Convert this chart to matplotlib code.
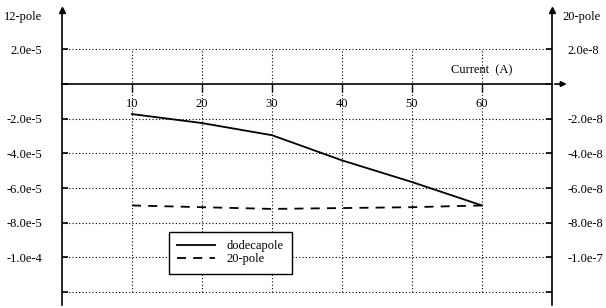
import matplotlib.pyplot as plt

plt.rcParams['font.family'] = ['Liberation Serif', 'DejaVu Serif']

# data
current = [10, 20, 30, 40, 50, 60]
dodecapole = [-1.73e-5, -2.25e-5, -2.95e-5, -4.4e-5, -5.65e-5, -7.0e-5]
pole20 = [-7.0e-8, -7.1e-8, -7.2e-8, -7.15e-8, -7.1e-8, -7.0e-8]

left_ticks = [2e-5, 0, -2e-5, -4e-5, -6e-5, -8e-5, -1e-4, -1.2e-4]
left_labels = ['2.0e-5', '', '-2.0e-5', '-4.0e-5', '-6.0e-5', '-8.0e-5', '-1.0e-4', '']
right_ticks = [2e-8, 0, -2e-8, -4e-8, -6e-8, -8e-8, -1e-7, -1.2e-7]
right_labels = ['2.0e-8', '', '-2.0e-8', '-4.0e-8', '-6.0e-8', '-8.0e-8', '-1.0e-7', '']

fig = plt.figure(figsize=(6.06, 3.08), dpi=100)
ax = fig.add_axes([62 / 606, 3 / 308, 490 / 606, 295 / 308])
ax.set_xlim(0, 70)
ax.set_ylim(-1.274e-4, 4.27e-5)

# grid
ax.hlines([t for t in left_ticks if t != 0], 0, 70, colors='black', linestyles=(0, (1, 2)), lw=0.8)
ax.vlines(current, -1.2e-4, 2e-5, colors='black', linestyles=(0, (1, 2)), lw=0.8)

l1, = ax.plot(current, dodecapole, color='black', lw=1.3, label='dodecapole')

ax.spines['top'].set_visible(False)
ax.spines['right'].set_visible(False)
ax.spines['bottom'].set_position(('data', 0))
ax.spines['left'].set_linewidth(1.2)
ax.spines['bottom'].set_linewidth(1.2)

ax.set_yticks(left_ticks)
ax.set_yticklabels(left_labels)
ax.set_xticks(current)
ax.tick_params(axis='y', direction='in', length=4, width=1.2, pad=14, labelsize=9)
ax.tick_params(axis='x', direction='out', length=6, width=1.0, pad=4, labelsize=9)

# arrows
ax.plot(0, 1, '^k', ms=4, transform=ax.transAxes, clip_on=False)
ax.plot(1, 1, '^k', ms=4, transform=ax.transAxes, clip_on=False)
ax.annotate('', xy=(72.5, 0), xytext=(70, 0),
            arrowprops=dict(arrowstyle='-|>', color='black', lw=1.2, mutation_scale=8),
            annotation_clip=False)

ax2 = ax.twinx()
ax2.set_ylim(-1.274e-7, 4.27e-8)
ax2.spines['top'].set_visible(False)
ax2.spines['left'].set_visible(False)
ax2.spines['bottom'].set_visible(False)
ax2.spines['right'].set_linewidth(1.2)
ax2.set_yticks(right_ticks)
ax2.set_yticklabels(right_labels)
ax2.tick_params(axis='y', direction='in', length=4, width=1.2, pad=11, labelsize=9)
l2, = ax2.plot(current, pole20, color='black', lw=1.3, linestyle=(0, (5, 4)), label='20-pole')

ax.text(60, 8e-6, 'Current  (A)', ha='center', va='center', fontsize=9)
fig.text(4 / 606, 1 - 17 / 308, '12-pole', ha='left', va='center', fontsize=9)
fig.text(562 / 606, 1 - 17 / 308, '20-pole', ha='left', va='center', fontsize=9)

leg = ax2.legend([l1, l2], ['dodecapole', '20-pole'], loc='lower left',
                 bbox_to_anchor=(0.205, 0.085), fontsize=9, fancybox=False,
                 edgecolor='black', framealpha=1, handlelength=3.0,
                 labelspacing=0.05, borderpad=0.7, handletextpad=0.9)
leg.get_frame().set_linewidth(1.0)

fig.savefig('out.png', dpi=100)
